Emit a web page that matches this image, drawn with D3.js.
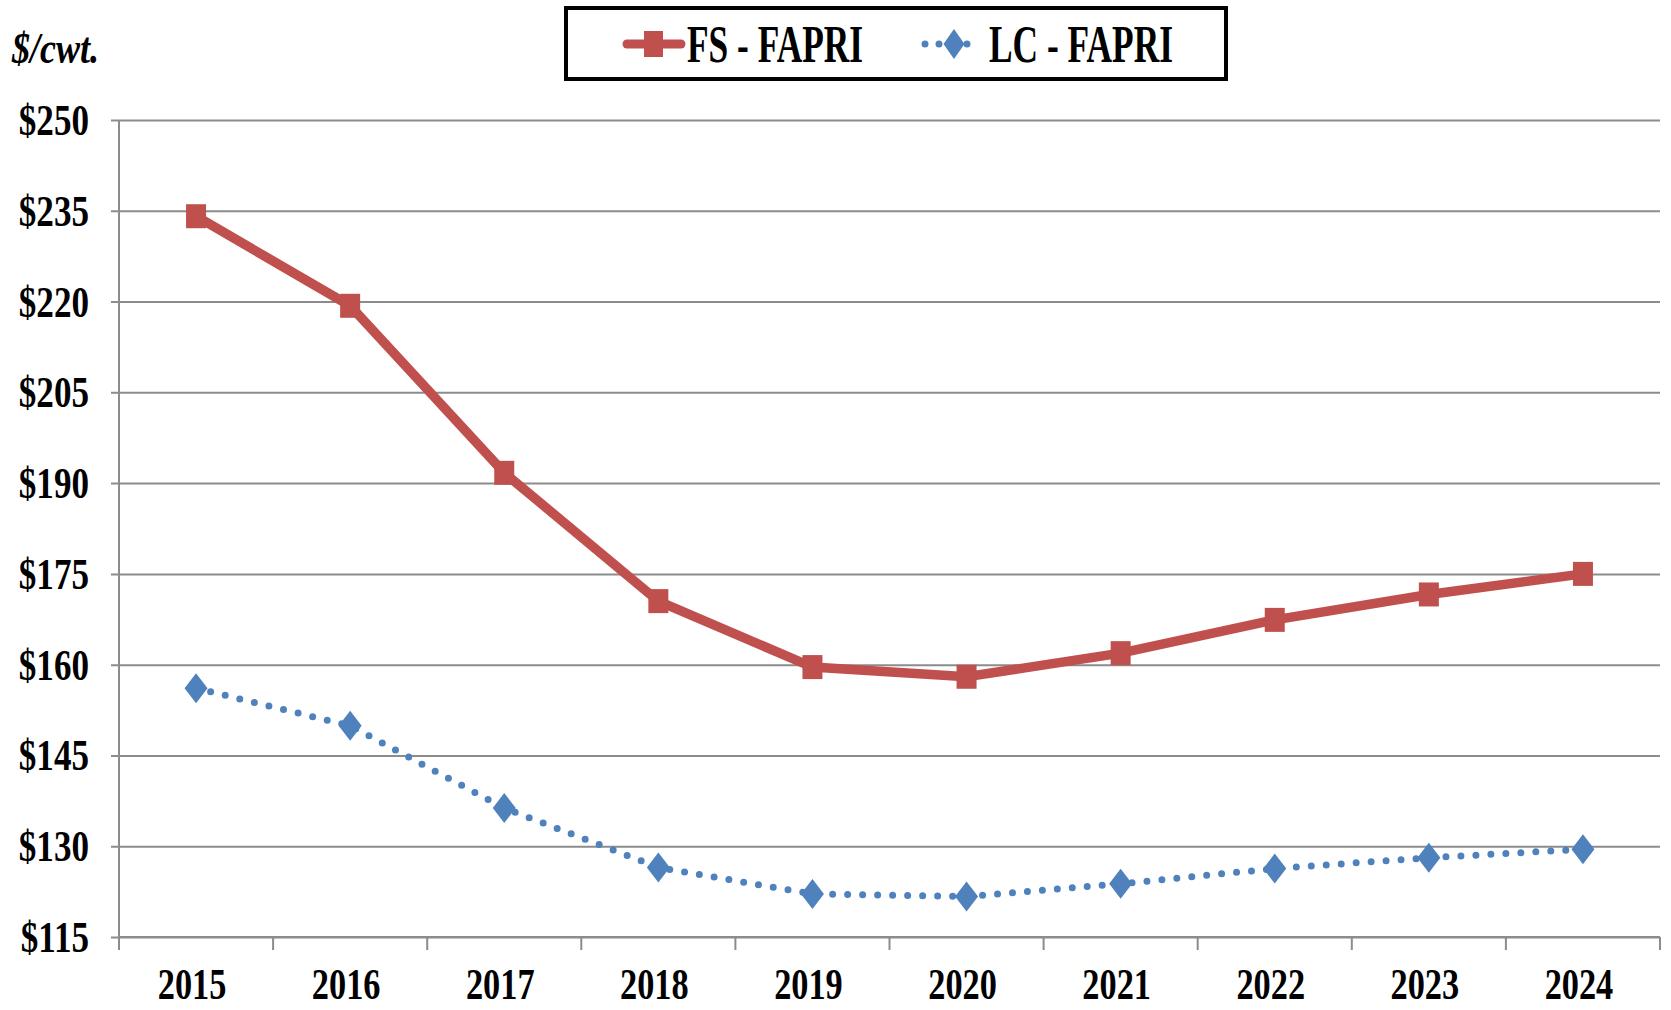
<!DOCTYPE html>
<html>
<head>
<meta charset="utf-8">
<script src="https://cdn.jsdelivr.net/npm/d3@7"></script>
<style>
  body { margin: 0; background: #fff; }
  text { font-family: "Liberation Serif", "Times New Roman", serif; font-weight: bold; fill: #000; }
</style>
</head>
<body>
<svg id="main"></svg>
<script>
var years = ["2015", "2016", "2017", "2018", "2019", "2020", "2021", "2022", "2023", "2024"];
var fsFapri = [234.1, 219.3, 191.7, 170.5, 159.6, 158.0, 161.9, 167.4, 171.6, 175.0];
var lcFapri = [156.1, 149.9, 136.3, 126.5, 122.1, 121.7, 123.8, 126.3, 128.1, 129.5];
var yTicks = [115, 130, 145, 160, 175, 190, 205, 220, 235, 250];
var seriesNames = ["FS - FAPRI", "LC - FAPRI"];

var W = 1671, H = 1010;
var margin = {top: 120, right: 11, bottom: 73, left: 119};
var width = W - margin.left - margin.right,
    height = H - margin.top - margin.bottom;

var red = "#C0504D", blue = "#4F81BD", grid = "#8c8c8c";

var svg = d3.select("#main").attr("width", W).attr("height", H);
var g = svg.append("g").attr("transform", "translate(" + margin.left + "," + margin.top + ")");

var x = d3.scaleBand().domain(years).range([0, width]).padding(0);
var y = d3.scaleLinear().domain([115, 250]).range([height, 0]);

// horizontal grid
var yAxis = d3.axisLeft(y).tickValues(yTicks).tickSize(-width).tickFormat("");
var yGrid = g.append("g").call(yAxis);
yGrid.select(".domain").remove();
yGrid.selectAll(".tick line").attr("stroke", grid).attr("stroke-width", 2).attr("x1", -8);

// y labels (squeezed serif look)
g.append("g").selectAll("text")
  .data(yTicks)
  .enter().append("text")
    .attr("transform", function(d) { return "translate(-30," + (y(d) + 15) + ") scale(0.78,1)"; })
    .attr("text-anchor", "end")
    .style("font-size", "45px")
    .text(function(d) { return "$" + d; });

// axes lines
g.append("line").attr("x1", 0).attr("x2", 0).attr("y1", 0).attr("y2", height)
  .attr("stroke", grid).attr("stroke-width", 2);
g.append("line").attr("x1", 0).attr("x2", width).attr("y1", height).attr("y2", height)
  .attr("stroke", grid).attr("stroke-width", 2);

// x ticks at band edges
var edges = years.map(function(d) { return x(d); }).concat([width]);
g.append("g").selectAll("line")
  .data(edges)
  .enter().append("line")
    .attr("x1", function(d) { return d; }).attr("x2", function(d) { return d; })
    .attr("y1", height).attr("y2", height + 13)
    .attr("stroke", grid).attr("stroke-width", 2);

g.append("g").selectAll("text")
  .data(years)
  .enter().append("text")
    .attr("transform", function(d) { return "translate(" + (x(d) + x.bandwidth() / 2 - 4) + "," + (height + 62) + ") scale(0.78,1)"; })
    .attr("text-anchor", "middle")
    .style("font-size", "44px")
    .text(function(d) { return d; });

var cx = function(d, i) { return x(years[i]) + x.bandwidth() / 2; };
var line = d3.line().x(cx).y(function(d) { return y(d); });

// LC dotted line
g.append("path").datum(lcFapri)
  .attr("d", line)
  .attr("fill", "none").attr("stroke", blue).attr("stroke-width", 7)
  .attr("stroke-linecap", "round").attr("stroke-dasharray", "0 15");

var diamond = function(w, h) { return "M0," + (-h/2) + "L" + (w/2) + ",0L0," + (h/2) + "L" + (-w/2) + ",0Z"; };
g.append("g").selectAll("path")
  .data(lcFapri)
  .enter().append("path")
    .attr("d", diamond(23, 30))
    .attr("transform", function(d, i) { return "translate(" + cx(d, i) + "," + y(d) + ")"; })
    .attr("fill", blue);

// FS solid line
g.append("path").datum(fsFapri)
  .attr("d", line)
  .attr("fill", "none").attr("stroke", red).attr("stroke-width", 9.5);

g.append("g").selectAll("rect")
  .data(fsFapri)
  .enter().append("rect")
    .attr("x", function(d, i) { return cx(d, i) - 10; })
    .attr("y", function(d) { return y(d) - 12; })
    .attr("width", 20).attr("height", 24)
    .attr("fill", red);

// unit label
svg.append("text")
  .attr("transform", "translate(12,63) scale(0.8,1)")
  .style("font-size", "45px").style("font-style", "italic")
  .text("$/cwt.");

// legend
var leg = svg.append("g");
leg.append("rect").attr("x", 566).attr("y", 8).attr("width", 660).attr("height", 71)
  .attr("fill", "#fff").attr("stroke", "#000").attr("stroke-width", 4);

leg.append("line").attr("x1", 627).attr("x2", 681).attr("y1", 44).attr("y2", 44)
  .attr("stroke", red).attr("stroke-width", 9).attr("stroke-linecap", "round");
leg.append("rect").attr("x", 644).attr("y", 31).attr("width", 19).attr("height", 26).attr("fill", red);
leg.append("text").attr("transform", "translate(687,62) scale(0.68,1)")
  .style("font-size", "52px").text(seriesNames[0]);

leg.append("line").attr("x1", 925).attr("x2", 981).attr("y1", 44).attr("y2", 44)
  .attr("stroke", blue).attr("stroke-width", 7).attr("stroke-linecap", "round")
  .attr("stroke-dasharray", "0 14");
leg.append("path").attr("d", diamond(21, 30)).attr("transform", "translate(954,44)").attr("fill", blue);
leg.append("text").attr("transform", "translate(989,62) scale(0.68,1)")
  .style("font-size", "52px").text(seriesNames[1]);
</script>
</body>
</html>
